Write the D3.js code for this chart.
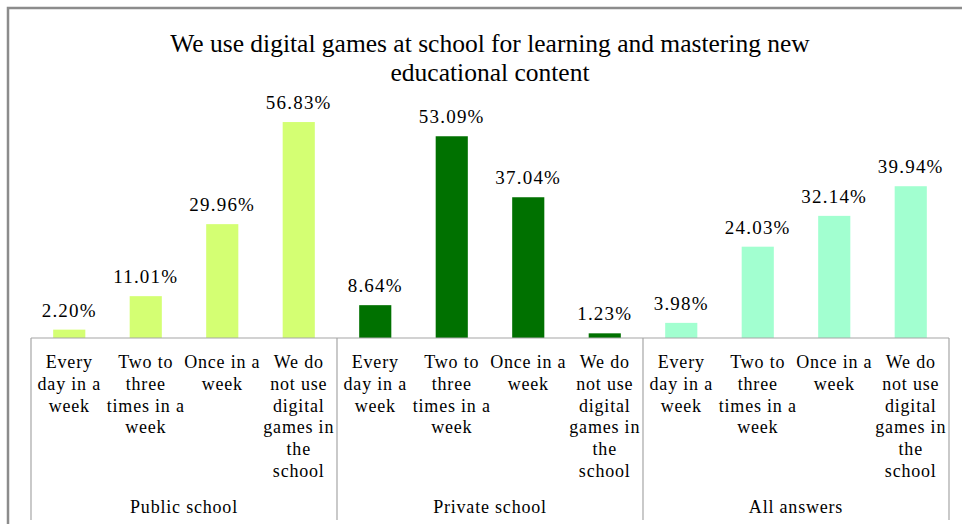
<!DOCTYPE html>
<html>
<head>
<meta charset="utf-8">
<script src="https://cdn.jsdelivr.net/npm/d3@7"></script>
</head>
<body style="margin:0">
<svg width="962" height="524"></svg>
<script>
const titleLines = ["We use digital games at school for learning and mastering new", "educational content"];
const groups = ["Public school", "Private school", "All answers"];
const answers = ["Every day in a week", "Two to three times in a week", "Once in a week", "We do not use digital games in the school"];
const answerLines = [
    ["Every", "day in a", "week"],
    ["Two to", "three", "times in a", "week"],
    ["Once in a", "week"],
    ["We do", "not use", "digital", "games in", "the", "school"]
];
const publicValues = [2.20, 11.01, 29.96, 56.83];
const privateValues = [8.64, 53.09, 37.04, 1.23];
const allValues = [3.98, 24.03, 32.14, 39.94];
const groupColors = ["#d4ff73", "#007100", "#a2ffd0"];

const FONT = "'Times New Roman', 'Liberation Serif', serif";
const svg = d3.select("svg");
const left = 31, right = 949, axisY = 338;

// flatten into rows
const rows = [];
[publicValues, privateValues, allValues].forEach((vals, gi) => {
    vals.forEach((v, ai) => {
        rows.push({ group: groups[gi], gi: gi, ai: ai, key: gi + "-" + ai, value: v });
    });
});

// centre a text on cx without text-anchor
function centre(sel, cx) {
    sel.each(function (d, i) {
        const c = typeof cx === "function" ? cx(d, i) : cx;
        d3.select(this).attr("x", c - this.getComputedTextLength() / 2);
    });
}

// outer frame
svg.append("rect")
    .attr("x", 8).attr("y", 8)
    .attr("width", 980).attr("height", 540)
    .attr("fill", "none")
    .attr("stroke", "#8c8c8c")
    .attr("stroke-width", 2.5);

const x = d3.scaleBand()
    .domain(rows.map(d => d.key))
    .range([left, right])
    .paddingInner(0.58)
    .paddingOuter(0.29);

const step = (right - left) / rows.length;

const y = d3.scaleLinear()
    .domain([0, 60])
    .range([axisY, axisY - 60 * 3.8]);

// title
svg.selectAll("text.title")
    .data(titleLines)
    .enter()
    .append("text")
    .attr("class", "title")
    .attr("y", (d, i) => 52 + i * 29)
    .style("font-family", FONT)
    .attr("font-size", 25.5)
    .text(d => d)
    .call(centre, (left + right) / 2);

// bars
svg.append("g").selectAll("rect")
    .data(rows)
    .enter()
    .append("rect")
    .attr("x", d => x(d.key))
    .attr("width", x.bandwidth())
    .attr("y", d => y(d.value))
    .attr("height", d => y(0) - y(d.value))
    .attr("fill", d => groupColors[d.gi]);

// value labels
svg.selectAll("text.value")
    .data(rows)
    .enter()
    .append("text")
    .attr("class", "value")
    .attr("y", d => y(d.value) - 13)
    .style("font-family", FONT)
    .attr("font-size", 19)
    .attr("letter-spacing", 1.2)
    .text(d => d.value.toFixed(2) + "%")
    .call(centre, d => x(d.key) + x.bandwidth() / 2);

// axis lines
const axis = svg.append("g").attr("stroke", "#a6a6a6").attr("stroke-width", 1.2);
axis.append("line")
    .attr("x1", left).attr("x2", right)
    .attr("y1", axisY).attr("y2", axisY);
d3.range(groups.length + 1).forEach(i => {
    const gx = left + i * step * answers.length;
    axis.append("line")
        .attr("x1", gx).attr("x2", gx)
        .attr("y1", axisY).attr("y2", 520);
});

// category labels
rows.forEach(d => {
    answerLines[d.ai].forEach((line, li) => {
        svg.append("text")
            .attr("y", 368 + li * 21.8)
            .style("font-family", FONT)
            .attr("font-size", 18)
            .attr("letter-spacing", 0.8)
            .text(line)
            .call(centre, x(d.key) + x.bandwidth() / 2);
    });
});

// group labels
svg.selectAll("text.group")
    .data(groups)
    .enter()
    .append("text")
    .attr("class", "group")
    .attr("y", 513)
    .style("font-family", FONT)
    .attr("font-size", 18)
    .attr("letter-spacing", 0.8)
    .text(d => d)
    .call(centre, (d, i) => left + (i + 0.5) * step * answers.length);
</script>
</body>
</html>
